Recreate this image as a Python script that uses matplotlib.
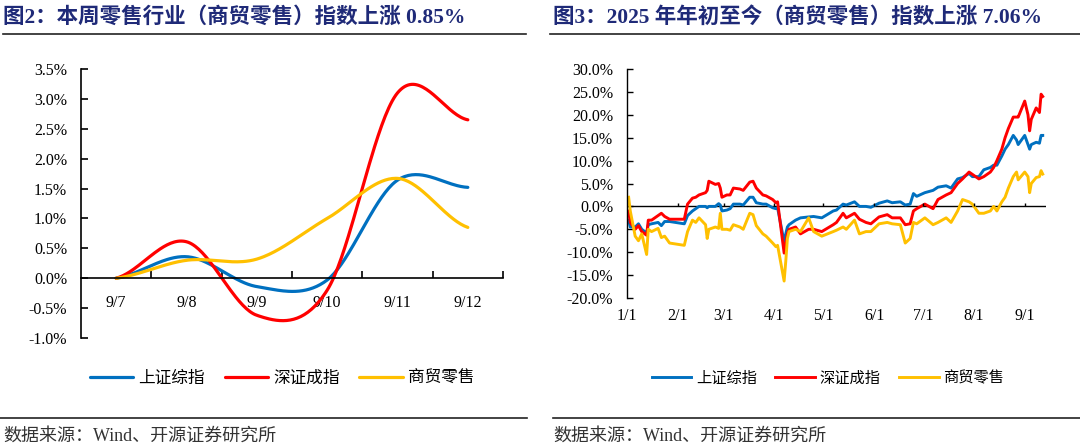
import numpy as np
import pandas as pd
import matplotlib
matplotlib.use("Agg")
import matplotlib.pyplot as plt
from matplotlib.lines import Line2D

plt.rcParams['font.family'] = ['Liberation Serif', 'Noto Sans CJK SC']

# ---- data: weekly chart (图2)
week_days = ['9/7', '9/8', '9/9', '9/10', '9/11', '9/12']
week_sh = [0.0, 0.36, -0.14, -0.03, 1.64, 1.52]
week_sz = [0.0, 0.61, -0.62, -0.20, 3.10, 2.65]
week_retail = [0.0, 0.30, 0.32, 1.00, 1.67, 0.85]

# ---- data: year-to-date chart (图3)
ytd_dates = ['2025-01-02', '2025-01-03', '2025-01-06', '2025-01-08', '2025-01-10', '2025-01-13',
             '2025-01-14', '2025-01-16', '2025-01-20', '2025-01-22', '2025-01-24', '2025-01-27',
             '2025-02-05', '2025-02-07', '2025-02-10', '2025-02-12', '2025-02-14', '2025-02-18',
             '2025-02-19', '2025-02-20', '2025-02-24', '2025-02-26', '2025-02-27', '2025-02-28',
             '2025-03-03', '2025-03-05', '2025-03-07', '2025-03-11', '2025-03-13', '2025-03-17',
             '2025-03-19', '2025-03-21', '2025-03-25', '2025-03-27', '2025-03-31', '2025-04-02',
             '2025-04-03', '2025-04-07', '2025-04-08', '2025-04-09', '2025-04-10', '2025-04-14',
             '2025-04-17', '2025-04-22', '2025-04-25', '2025-04-30', '2025-05-07', '2025-05-09',
             '2025-05-13', '2025-05-15', '2025-05-20', '2025-05-23', '2025-05-27', '2025-05-30',
             '2025-06-04', '2025-06-09', '2025-06-12', '2025-06-17', '2025-06-20', '2025-06-23',
             '2025-06-25', '2025-06-27', '2025-07-02', '2025-07-07', '2025-07-10', '2025-07-15',
             '2025-07-18', '2025-07-22', '2025-07-25', '2025-07-29', '2025-07-31', '2025-08-04',
             '2025-08-07', '2025-08-11', '2025-08-13', '2025-08-15', '2025-08-18', '2025-08-20',
             '2025-08-22', '2025-08-25', '2025-08-27', '2025-08-28', '2025-09-01', '2025-09-03',
             '2025-09-04', '2025-09-05', '2025-09-08', '2025-09-10', '2025-09-11', '2025-09-12']
ytd_sh = [-3.0, -4.5, -4.5, -3.8, -5.0, -5.8,
          -4.0, -3.8, -3.5, -4.2, -3.3, -3.3,
          -3.8, -2.0, -1.0, -0.5, 0.0, 0.0,
          -0.3, 0.0, 0.0, 0.6, 0.3, -1.0,
          -0.8, -0.5, 0.5, 0.5, 0.3, 2.0,
          2.0, 0.8, 0.5, 0.5, -0.3, -0.5,
          -0.3, -7.8, -6.0, -4.5, -4.0, -3.0,
          -2.5, -2.3, -2.2, -2.5, -1.0, -0.8,
          0.5, 0.3, 1.0, 0.0, 0.0, -0.2,
          0.7, 1.2, 0.8, 1.0, 0.3, 0.5,
          2.8, 2.2, 3.0, 3.5, 4.2, 4.5,
          4.0, 6.0, 6.3, 7.2, 6.5, 6.5,
          8.0, 8.5, 9.0, 9.0, 11.0, 12.5,
          13.5, 15.5, 14.5, 13.5, 15.5, 13.5,
          12.5, 13.5, 14.0, 13.8, 15.5, 15.5]
ytd_sz = [-1.0, -3.5, -5.0, -4.2, -5.5, -6.3,
          -3.0, -3.0, -2.0, -1.5, -2.2, -2.8,
          -2.8, 0.5, 1.8, 2.0, 2.5, 3.0,
          3.5, 5.5, 4.8, 5.0, 4.0, 2.0,
          2.5, 2.5, 4.0, 3.8, 3.5, 5.3,
          5.5, 4.0, 2.5, 2.3, 1.5, 0.8,
          1.0, -10.2, -8.0, -6.0, -5.0, -4.5,
          -6.0, -5.0, -5.0, -5.5, -4.0, -3.5,
          -1.5, -2.5, -1.5, -2.8, -3.5, -3.8,
          -2.3, -1.8, -2.5, -2.5, -4.0, -3.8,
          -1.0, -0.5, 0.5, -0.5, 1.5, 2.5,
          3.0, 5.0, 6.0, 7.5, 7.0, 6.0,
          6.5, 7.5, 8.5, 10.0, 12.5, 15.0,
          17.0, 19.5, 19.5, 19.5, 23.0, 20.0,
          16.5, 19.0, 21.5, 20.5, 24.5, 24.0]
ytd_retail = [2.0, -1.0, -6.5, -7.5, -6.0, -10.5,
              -5.0, -5.5, -4.8, -6.8, -6.5, -8.0,
              -8.5, -5.5, -3.0, -3.5, -2.5, -4.0,
              -7.0, -5.0, -4.5, -4.8, -1.5, -5.0,
              -5.0, -5.2, -4.0, -4.5, -5.0, -1.5,
              -1.8, -4.2, -6.0, -6.5, -8.0, -8.8,
              -8.5, -16.3, -12.0, -7.0, -5.5, -5.0,
              -5.5, -2.5, -5.5, -6.5, -5.5, -5.2,
              -4.5, -5.0, -3.0, -6.0, -5.5, -5.5,
              -3.8, -3.5, -3.8, -4.0, -8.0, -7.0,
              -3.5, -3.8, -2.5, -4.0, -3.5, -2.5,
              -3.5, -1.0, 1.5, 1.0, 0.5, -1.5,
              -1.5, -1.0, 0.0, -1.0, 1.0, 2.0,
              4.0, 6.5, 7.5, 5.8, 7.5, 6.5,
              3.0, 5.0, 6.3, 6.5, 7.8, 7.06]

names = ['上证综指', '深证成指', '商贸零售']
colors = ['#0070C0', '#FF0000', '#FFC000']
title_color = '#1F2A78'


def smooth(y, n=40):
    # excel style smoothed line (catmull-rom)
    y = np.asarray(y, float)
    yp = np.concatenate([[y[0]], y, [y[-1]]])
    xs, ys = [], []
    for i in range(len(y) - 1):
        t = np.linspace(0, 1, n, endpoint=(i == len(y) - 2))
        p0, p1 = y[i], y[i + 1]
        m0 = (yp[i + 2] - yp[i]) / 2
        m1 = (yp[i + 3] - yp[i + 1]) / 2
        h00 = 2 * t**3 - 3 * t**2 + 1
        h10 = t**3 - 2 * t**2 + t
        h01 = -2 * t**3 + 3 * t**2
        h11 = t**3 - t**2
        xs.append(i + t)
        ys.append(h00 * p0 + h10 * m0 + h01 * p1 + h11 * m1)
    return np.concatenate(xs), np.concatenate(ys)


W, H = 1080, 446
fig = plt.figure(figsize=(W / 100, H / 100), dpi=100)

# titles and rules
fig.text(3 / W, 1 - 17 / H, '图2：本周零售行业（商贸零售）指数上涨 0.85%', fontsize=15.5,
         fontweight='bold', color=title_color, va='center', ha='left')
fig.text(553 / W, 1 - 17 / H, '图3：2025 年年初至今（商贸零售）指数上涨 7.06%', fontsize=15.5,
         fontweight='bold', color=title_color, va='center', ha='left')
fig.add_artist(Line2D([3 / W, 526 / W], [1 - 34 / H] * 2, color='#222222', lw=1.2))
fig.add_artist(Line2D([550 / W, 1], [1 - 34 / H] * 2, color='#222222', lw=1.2))
fig.add_artist(Line2D([0, 527 / W], [1 - 418 / H] * 2, color='#222222', lw=1.2))
fig.add_artist(Line2D([553 / W, 1], [1 - 418 / H] * 2, color='#222222', lw=1.2))
fig.text(3 / W, 1 - 436 / H, '数据来源：Wind、开源证券研究所', fontsize=13, color='#333333',
         va='center', ha='left')
fig.text(553 / W, 1 - 436 / H, '数据来源：Wind、开源证券研究所', fontsize=13, color='#333333',
         va='center', ha='left')

# ---- left chart
ax1 = fig.add_axes([81 / W, 1 - 338 / H, (503 - 81) / W, (338 - 69) / H])
for vals, c, nm in zip([week_sh, week_sz, week_retail], colors, names):
    sx, sy = smooth(vals)
    ax1.plot(sx, sy, color=c, lw=2.3, label=nm, solid_capstyle='round')
ax1.set_xlim(-0.5, 5.5)
ax1.set_ylim(-1.0, 3.5)
ax1.spines['top'].set_visible(False)
ax1.spines['right'].set_visible(False)
ax1.spines['bottom'].set_position(('data', 0))
for s in ['left', 'bottom']:
    ax1.spines[s].set_linewidth(1.2)
ax1.set_xticks(range(len(week_days)))
ax1.set_xticklabels(week_days)
ax1.set_xticks(np.arange(0.5, 6, 1), minor=True)
ax1.tick_params(axis='x', which='major', length=0, pad=12, labelsize=11.5)
ax1.tick_params(axis='x', which='minor', direction='in', length=5, width=1.2)
yt1 = np.arange(-1.0, 3.51, 0.5)
ax1.set_yticks(yt1)
ax1.set_yticklabels([f'{v:.1f}%' for v in yt1])
ax1.tick_params(axis='y', direction='in', length=5, width=1.2, pad=10, labelsize=11.5)

# ---- right chart
ax2 = fig.add_axes([627 / W, 1 - 298 / H, (1046 - 627) / W, (298 - 69) / H])
dts = pd.to_datetime(ytd_dates)
for vals, c, nm in zip([ytd_sh, ytd_sz, ytd_retail], colors, names):
    ax2.plot(dts, vals, color=c, lw=2.1, label=nm, solid_joinstyle='round')
ax2.axhline(0, color='black', lw=1.0, zorder=1)
month_ticks = pd.date_range('2025-01-01', '2025-09-01', freq='MS')
ax2.vlines(month_ticks[1:], 0, 0.8, color='black', lw=1.0)
ax2.set_xlim(pd.Timestamp('2025-01-01'), pd.Timestamp('2025-09-14'))
ax2.set_ylim(-20, 30)
ax2.set_xticks(month_ticks)
ax2.set_xticklabels([f'{d.month}/1' for d in month_ticks])
ax2.tick_params(axis='x', length=0, pad=7, labelsize=11.5)
for s in ['top', 'right', 'bottom']:
    ax2.spines[s].set_visible(False)
ax2.spines['left'].set_linewidth(1.0)
yt2 = np.arange(-20, 31, 5)
ax2.set_yticks(yt2)
ax2.set_yticklabels([f'{v:.1f}%' for v in yt2])
ax2.tick_params(axis='y', direction='in', length=4, width=1.0, pad=10, labelsize=11.5)

# legends
h1, l1 = ax1.get_legend_handles_labels()
fig.legend(h1, l1, loc='center', bbox_to_anchor=(282 / W, 1 - 378 / H), ncol=3, frameon=False,
           prop={'family': ['Noto Sans CJK SC'], 'size': 12}, handlelength=2.6,
           handletextpad=0.3, columnspacing=1.2)
h2, l2 = ax2.get_legend_handles_labels()
fig.legend(h2, l2, loc='center', bbox_to_anchor=(828 / W, 1 - 378 / H), ncol=3, frameon=False,
           prop={'family': ['Noto Sans CJK SC'], 'size': 11}, handlelength=2.6,
           handletextpad=0.3, columnspacing=1.2)

fig.savefig('out.png', dpi=100)
